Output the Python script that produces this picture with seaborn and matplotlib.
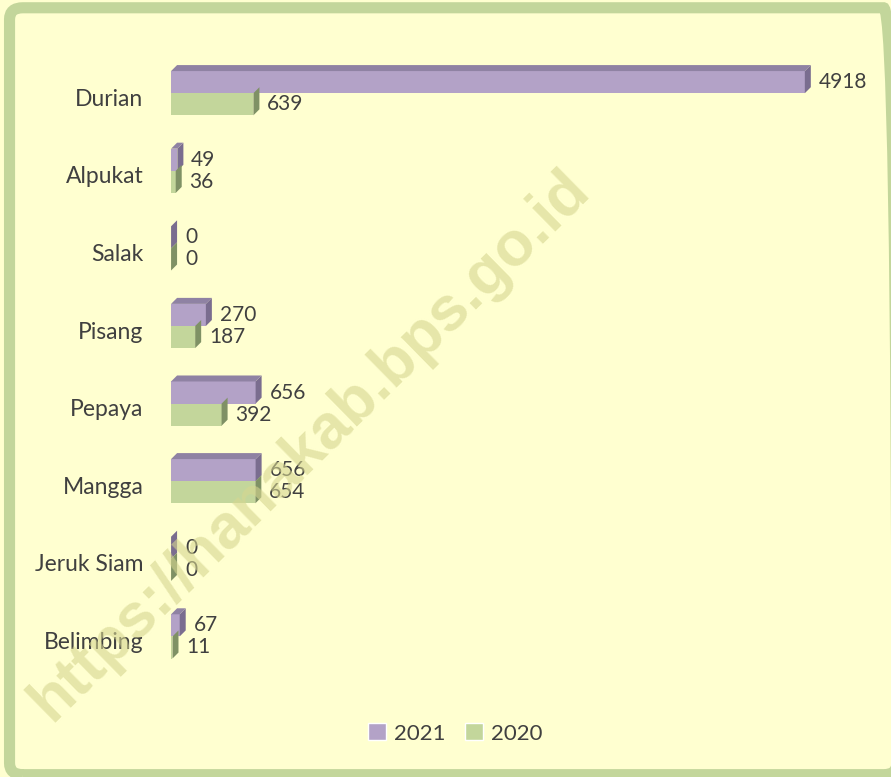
import numpy as np
import pandas as pd
import seaborn as sns
import matplotlib.pyplot as plt
from matplotlib.patches import Polygon, FancyBboxPatch, Patch
from matplotlib.transforms import ScaledTranslation

# data
categories = ['Durian', 'Alpukat', 'Salak', 'Pisang', 'Pepaya', 'Mangga', 'Jeruk Siam', 'Belimbing']
val_2021 = [4918, 49, 0, 270, 656, 656, 0, 67]
val_2020 = [639, 36, 0, 187, 392, 654, 0, 11]
years = ['2021', '2020']

bg = '#FFFFD0'
front = {'2021': '#B3A2C7', '2020': '#C3D69B'}
top_c = {'2021': '#8F82A3', '2020': '#9DAD7C'}
side_c = {'2021': '#7A6D8F', '2020': '#7F9165'}
txt = '#404040'

df = pd.DataFrame({
    'cat': categories * 2,
    'val': val_2021 + val_2020,
    'year': ['2021'] * len(categories) + ['2020'] * len(categories),
})

sns.set_style('white')
plt.rcParams['font.family'] = ['Lato', 'DejaVu Sans']

fig = plt.figure(figsize=(8.91, 7.77), dpi=100, facecolor=bg)
# green rounded frame
fig.patches.append(FancyBboxPatch((0.0107, 0.003), 0.996, 0.987, boxstyle='round,pad=0,rounding_size=0.015',
                                  transform=fig.transFigure, facecolor='none', edgecolor='#C3D69B',
                                  linewidth=8, zorder=-1))
ax = fig.add_axes([0.192, 0.131, 0.781, 0.799])
ax.set_facecolor('none')

sns.barplot(data=df, y='cat', x='val', hue='year', hue_order=years, order=categories,
            palette=front, width=0.57, orient='h', ax=ax, legend=False, saturation=1,
            linewidth=0)
ax.set_xlim(0, 5400)
ax.set_ylim(len(categories) - 0.5, -0.5)
sns.despine(ax=ax, left=True, bottom=True)
ax.set_xticks([])
ax.set_xlabel('')
ax.set_ylabel('')
ax.tick_params(axis='y', length=0, pad=20, labelsize=16.5, labelcolor=txt)
# category names sit a little below the bar pair
for lab in ax.get_yticklabels():
    lab.set_transform(lab.get_transform() + ScaledTranslation(0, -0.04, fig.dpi_scale_trans))

# 3D faces, offset in pixels
fig.canvas.draw()
d = 6
inv = ax.transData.inverted()
for yr, cont in zip(years, ax.containers):
    for p in cont.patches:
        x0, y0 = p.get_x(), p.get_y()
        x1, y1 = x0 + p.get_width(), y0 + p.get_height()
        (px0, py_top), (px1, py_bot) = ax.transData.transform([(x0, y0), (x1, y1)])
        pts_side = [(px1, py_top), (px1, py_bot), (px1 + d, py_bot + d), (px1 + d, py_top + d)]
        ax.add_patch(Polygon(inv.transform(pts_side), closed=True, facecolor=side_c[yr],
                             edgecolor='none', zorder=3))
        if yr == '2021':
            pts_top = [(px0, py_top), (px1, py_top), (px1 + d, py_top + d), (px0 + d, py_top + d)]
            ax.add_patch(Polygon(inv.transform(pts_top), closed=True, facecolor=top_c[yr],
                                 edgecolor='none', zorder=3))
    ax.bar_label(cont, fmt='%d', padding=10, fontsize=15, color=txt)

handles = [Patch(facecolor=front[y], label=y) for y in years]
fig.legend(handles=handles, loc='center', bbox_to_anchor=(0.511, 0.056), ncol=2, frameon=False,
           fontsize=16, labelcolor=txt, handlelength=0.8, handleheight=0.8, handletextpad=0.35,
           columnspacing=0.9)

fig.text(0.348, 0.427, 'https://hanakab.bps.go.id', rotation=44.5, ha='center', va='center',
         fontsize=45, fontweight='bold', family='Liberation Sans', color='#D6D690', alpha=0.6,
         zorder=10)

fig.savefig('out.png', dpi=100, facecolor=bg)
